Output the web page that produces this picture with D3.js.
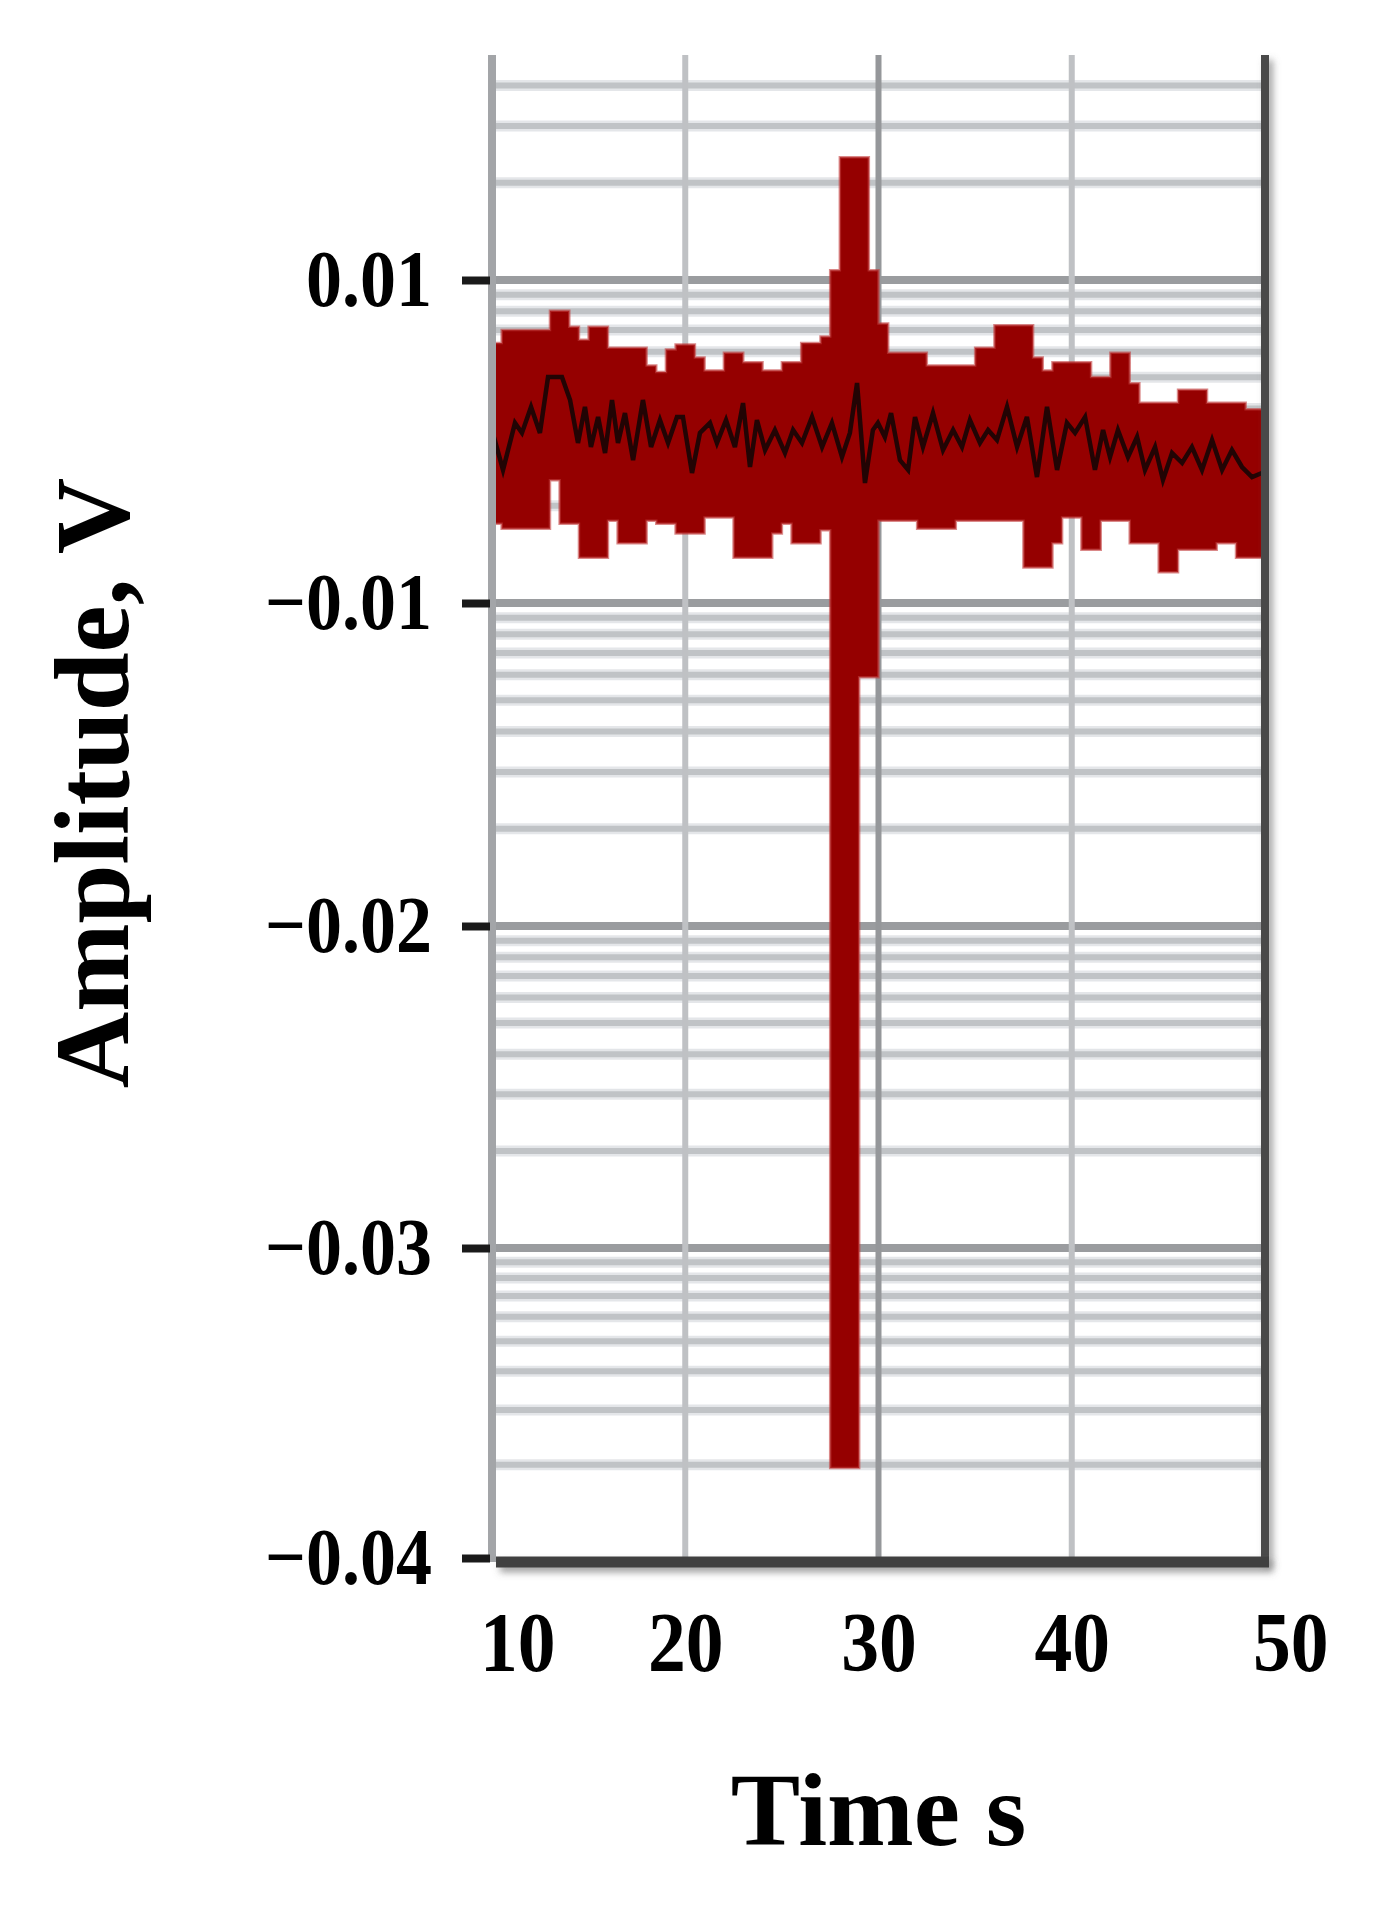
<!DOCTYPE html>
<html>
<head>
<meta charset="utf-8">
<script src="https://cdnjs.cloudflare.com/ajax/libs/d3/7.8.5/d3.min.js"></script>
<style>
  body { margin: 0; background: #fff; }
</style>
</head>
<body>
<div id="chart"></div>
<script>
// axis ticks
const xTicks = [10, 20, 30, 40, 50];
const xTickLabels = ["10", "20", "30", "40", "50"];
const xGrid = [20, 30, 40];
const yTicks = [0.01, -0.01, -0.02, -0.03, -0.04];
const yTickLabels = ["0.01", "\u22120.01", "\u22120.02", "\u22120.03", "\u22120.04"];

// envelope of the trace (mV), one value every 0.5 s starting at 10 s
const envStart = 10, envStep = 0.5;
const upperMv = [6.1, 6.9, 6.9, 6.9, 6.9, 6.9, 8.1, 8.1, 7.1, 6.3,
    7.1, 7.1, 5.8, 5.8, 5.8, 5.8, 4.7, 4.3, 5.7, 6.0,
    6.0, 5.2, 4.4, 4.4, 5.5, 5.5, 4.9, 4.9, 4.4, 4.4,
    4.9, 4.9, 6.1, 6.1, 6.5, 10.6, 17.6, 17.6, 17.6, 10.6,
    7.3, 5.5, 5.5, 5.5, 5.5, 4.7, 4.7, 4.7, 4.7, 4.7,
    5.8, 5.8, 7.2, 7.2, 7.2, 7.2, 5.2, 4.4, 4.9, 4.9,
    4.9, 4.9, 4.0, 4.0, 5.5, 5.5, 3.6, 2.4, 2.4, 2.4,
    2.4, 3.2, 3.2, 3.2, 2.4, 2.4, 2.4, 2.4, 2.0, 2.0,
    2.0];
const lowerMv = [-5.1, -5.4, -5.4, -5.4, -5.4, -5.4, -2.4, -5.1, -5.1, -7.2,
    -7.2, -7.2, -4.9, -6.3, -6.3, -6.3, -4.9, -5.1, -5.1, -5.7,
    -5.7, -5.7, -4.7, -4.7, -4.7, -7.2, -7.2, -7.2, -7.2, -5.7,
    -5.1, -6.3, -6.3, -6.3, -5.5, -37.1, -37.1, -37.1, -12.3, -12.3,
    -4.9, -4.9, -4.9, -4.9, -5.4, -5.4, -5.4, -5.4, -4.9, -4.9,
    -4.9, -4.9, -4.9, -4.9, -4.9, -7.8, -7.8, -7.8, -6.3, -4.7,
    -4.7, -6.7, -6.7, -4.9, -4.9, -4.9, -6.3, -6.3, -6.3, -8.1,
    -8.1, -6.7, -6.7, -6.7, -6.7, -6.3, -6.3, -7.2, -7.2, -7.2,
    -7.2];

// mean trace (time s, mV)
const lineT = [10.00, 10.57, 11.19, 11.55, 12.02, 12.48, 12.90, 13.62, 14.04, 14.45,
    14.81, 15.12, 15.49, 15.85, 16.21, 16.52, 16.88, 17.30, 17.81, 18.23,
    18.69, 19.11, 19.57, 19.88, 20.35, 20.76, 21.28, 21.64, 22.11, 22.57,
    22.99, 23.35, 23.71, 24.13, 24.64, 25.16, 25.58, 26.04, 26.56, 27.08,
    27.59, 28.11, 28.52, 28.89, 29.30, 29.71, 29.97, 30.33, 30.65, 31.11,
    31.53, 31.89, 32.30, 32.82, 33.34, 33.86, 34.32, 34.73, 35.25, 35.67,
    36.13, 36.65, 37.17, 37.68, 38.20, 38.72, 39.24, 39.75, 40.17, 40.69,
    41.20, 41.62, 41.98, 42.39, 42.91, 43.38, 43.79, 44.31, 44.72, 45.19,
    45.71, 46.22, 46.74, 47.26, 47.78, 48.29, 48.81, 49.33, 49.84];
const lineMv = [0.71, -1.76, 1.15, 0.53, 2.14, 0.53, 3.99, 3.99, 2.57, -0.09,
    2.14, -0.34, 1.52, -0.71, 2.57, -0.09, 1.76, -1.15, 2.57, -0.34,
    1.33, -0.09, 1.52, 1.52, -1.95, 0.53, 1.15, -0.09, 1.33, -0.34,
    2.38, -1.58, 1.33, -0.53, 0.71, -0.71, 0.71, -0.09, 1.52, -0.34,
    1.15, -0.96, 0.53, 3.62, -2.57, 0.71, 1.15, 0.28, 1.76, -1.15,
    -1.76, 1.52, -0.34, 1.76, -0.53, 0.71, -0.34, 1.33, -0.09, 0.71,
    0.09, 2.14, -0.34, 1.52, -2.20, 2.14, -1.76, 1.15, 0.53, 1.52,
    -1.76, 0.71, -0.96, 0.71, -0.96, 0.28, -1.76, -0.34, -2.38, -0.71,
    -1.33, -0.34, -1.76, 0.09, -1.76, -0.53, -1.58, -2.20, -1.95];

let w = 1386;
let h = 1910;
const plotLeft = 492, plotRight = 1265, plotTop = 55, plotBottom = 1562;

let svg = d3.select("#chart")
    .append("svg")
    .attr("width", w)
    .attr("height", h)
    .style("background", "#fff");

const defs = svg.append("defs");
const shadow = defs.append("filter")
    .attr("id", "shadow")
    .attr("filterUnits", "userSpaceOnUse")
    .attr("x", 0).attr("y", 0).attr("width", w).attr("height", h);
shadow.append("feDropShadow")
    .attr("dx", 4).attr("dy", 5)
    .attr("stdDeviation", 3.5)
    .attr("flood-color", "#666")
    .attr("flood-opacity", 0.6);

let x = d3.scaleLinear().domain([10, 50]).range([plotLeft, plotRight]);
// the axis in the figure is not uniform, so use a piecewise scale
let y = d3.scaleLinear().domain(yTicks).range([280, 603, 926, 1248, 1558]);

// minor grid: 8 lines per band, log-style spacing below each major line
let bands = [[0.03, 0.01]].concat(d3.pairs(yTicks));
let minor = [];
bands.forEach(([a, b]) => {
    for (let k = 2; k <= 9; k++) minor.push(a + (b - a) * (1 - Math.log10(k)));
});
minor = minor.filter(v => y(v) > plotTop + 8 && y(v) < plotBottom - 6);

const grid = svg.append("g");
grid.selectAll("line.halo")
    .data(minor)
    .join("line")
    .attr("class", "halo")
    .attr("x1", plotLeft).attr("x2", plotRight)
    .attr("y1", d => y(d)).attr("y2", d => y(d))
    .attr("stroke", "#e4e6e9")
    .attr("stroke-width", 11);
grid.selectAll("line.minor")
    .data(minor)
    .join("line")
    .attr("class", "minor")
    .attr("x1", plotLeft).attr("x2", plotRight)
    .attr("y1", d => y(d)).attr("y2", d => y(d))
    .attr("stroke", "#c0c3c6")
    .attr("stroke-width", 6);
grid.selectAll("line.major")
    .data(yTicks.slice(0, 4))
    .join("line")
    .attr("class", "major")
    .attr("x1", plotLeft).attr("x2", plotRight)
    .attr("y1", d => y(d)).attr("y2", d => y(d))
    .attr("stroke", "#9a9c9f")
    .attr("stroke-width", 8);
grid.selectAll("line.vert")
    .data(xGrid)
    .join("line")
    .attr("class", "vert")
    .attr("x1", d => x(d)).attr("x2", d => x(d))
    .attr("y1", plotTop).attr("y2", plotBottom)
    .attr("stroke", d => d === 30 ? "#95979a" : "#bfc1c4")
    .attr("stroke-width", 6);

// envelope band
let envData = upperMv.map((u, i) => ({ t: envStart + i * envStep, hi: u / 1000, lo: lowerMv[i] / 1000 }));
let area = d3.area()
    .x(d => x(d.t))
    .y0(d => y(d.lo))
    .y1(d => y(d.hi))
    .curve(d3.curveStepAfter);
svg.append("path")
    .datum(envData)
    .attr("d", area)
    .attr("fill", "#950000")
    .attr("stroke", "#c23a3a")
    .attr("stroke-opacity", 0.6)
    .attr("stroke-width", 2.5);

// mean trace
let lineData = lineT.map((t, i) => ({ t: t, v: lineMv[i] / 1000 }));
let line = d3.line()
    .x(d => x(d.t))
    .y(d => y(d.v));
svg.append("path")
    .datum(lineData)
    .attr("d", line)
    .attr("fill", "none")
    .attr("stroke", "#220404")
    .attr("stroke-width", 4.5)
    .attr("stroke-linejoin", "miter");

// frame
svg.append("line")
    .attr("x1", x(10)).attr("x2", x(10))
    .attr("y1", plotTop).attr("y2", plotBottom)
    .attr("stroke", "#a3a5a8")
    .attr("stroke-width", 8);
svg.append("line")
    .attr("x1", x(50)).attr("x2", x(50))
    .attr("y1", plotTop).attr("y2", plotBottom)
    .attr("stroke", "#48484a")
    .attr("stroke-width", 8)
    .attr("filter", "url(#shadow)");
svg.append("line")
    .attr("x1", plotLeft + 4).attr("x2", plotRight + 4)
    .attr("y1", plotBottom).attr("y2", plotBottom)
    .attr("stroke", "#404040")
    .attr("stroke-width", 11)
    .attr("filter", "url(#shadow)");

// y axis
let yAxis = d3.axisLeft(y)
    .tickValues(yTicks)
    .tickFormat((d, i) => yTickLabels[i])
    .tickSize(28)
    .tickPadding(32);
let gy = svg.append("g")
    .attr("transform", "translate(" + (plotLeft - 2) + ",0)")
    .call(yAxis)
    .attr("font-family", "'Liberation Serif', 'Times New Roman', serif")
    .attr("font-size", 80)
    .attr("font-weight", "bold");
gy.select(".domain").remove();
gy.selectAll(".tick line")
    .attr("stroke", "#1a1a1a")
    .attr("stroke-width", 8);
gy.selectAll(".tick text")
    .attr("x", 0)
    .attr("transform", "translate(-58,0) scale(0.9,1)")
    .attr("fill", "#000");

// x axis
let xAxis = d3.axisBottom(x)
    .tickValues(xTicks)
    .tickFormat((d, i) => xTickLabels[i])
    .tickSize(0)
    .tickPadding(49);
let gx = svg.append("g")
    .attr("transform", "translate(0," + plotBottom + ")")
    .call(xAxis)
    .attr("font-family", "'Liberation Serif', 'Times New Roman', serif")
    .attr("font-size", 84)
    .attr("font-weight", "bold");
gx.select(".domain").remove();
gx.selectAll(".tick text")
    .attr("dx", (d, i) => (i === 0 || i === xTicks.length - 1) ? 28 : 0)
    .attr("transform", "scale(0.9,1)")
    .attr("fill", "#000");

// titles
svg.append("text")
    .attr("transform", "translate(128,783) rotate(-90)")
    .attr("text-anchor", "middle")
    .attr("font-family", "'Liberation Serif', 'Times New Roman', serif")
    .attr("font-size", 106)
    .attr("font-weight", "bold")
    .text("Amplitude, V");

svg.append("text")
    .attr("x", (plotLeft + plotRight) / 2)
    .attr("y", 1845)
    .attr("text-anchor", "middle")
    .attr("font-family", "'Liberation Serif', 'Times New Roman', serif")
    .attr("font-size", 104)
    .attr("font-weight", "bold")
    .text("Time s");
</script>
</body>
</html>
